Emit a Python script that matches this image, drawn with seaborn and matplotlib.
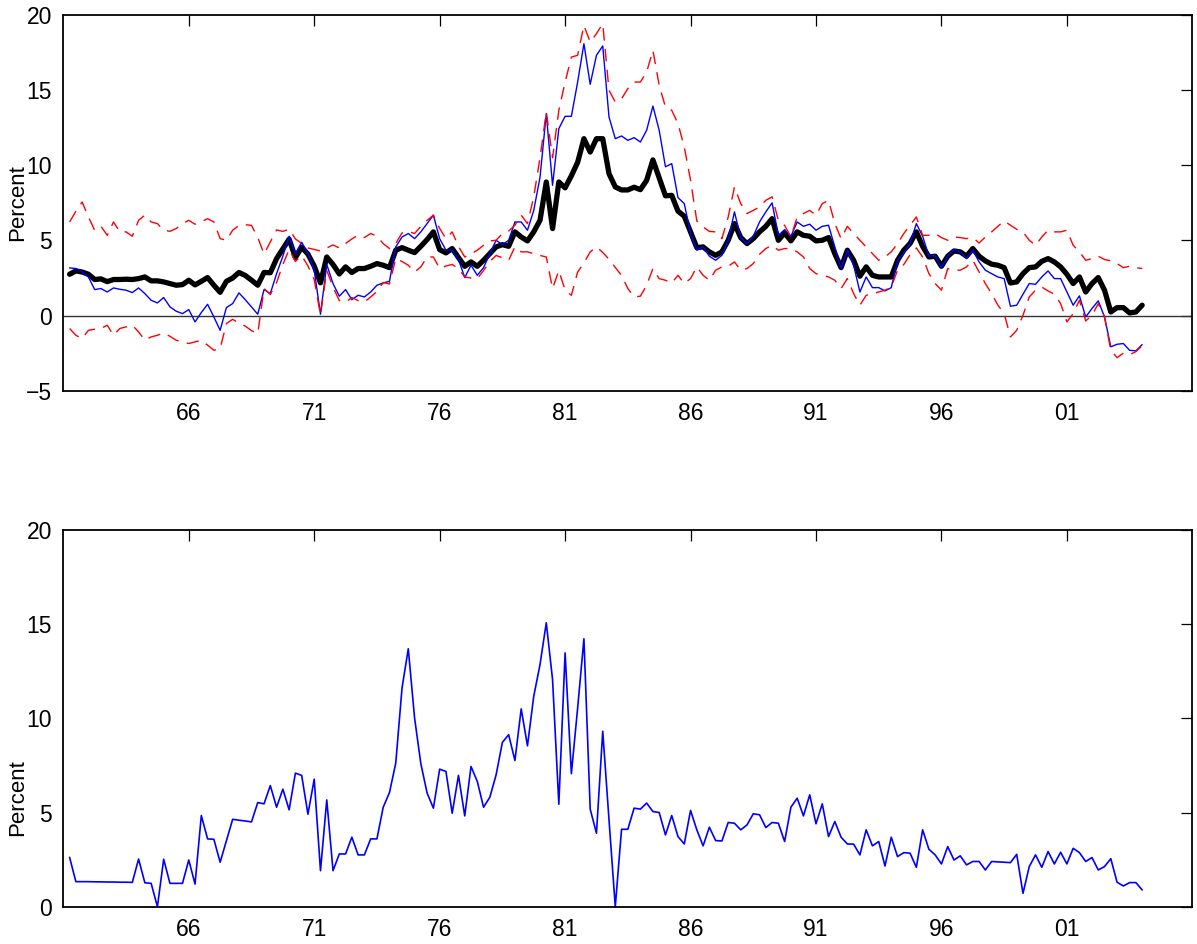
import numpy as np
import pandas as pd
import matplotlib
matplotlib.use("Agg")
import matplotlib.pyplot as plt
from matplotlib import font_manager
import seaborn as sns

# ---------------- data (quarterly, 1961Q2 .. 2004Q1) ----------------
start_year = 1961.25
step = 0.25

estimate = [
    2.75, 2.97, 2.90, 2.75, 2.40, 2.44, 2.26, 2.40, 2.40, 2.42,
    2.40, 2.46, 2.57, 2.31, 2.31, 2.24, 2.13, 2.02, 2.06, 2.35,
    2.04, 2.28, 2.53, 2.02, 1.55, 2.28, 2.50, 2.87, 2.67, 2.36,
    2.02, 2.87, 2.85, 3.79, 4.44, 5.09, 3.86, 4.55, 4.09, 3.29,
    2.18, 3.90, 3.40, 2.77, 3.24, 2.87, 3.13, 3.13, 3.28, 3.46,
    3.35, 3.19, 4.35, 4.52, 4.35, 4.19, 4.61, 5.06, 5.57, 4.39,
    4.17, 4.46, 3.86, 3.28, 3.57, 3.28, 3.68, 4.12, 4.57, 4.72,
    4.61, 5.57, 5.23, 4.97, 5.57, 6.34, 8.89, 5.79, 8.89, 8.50,
    9.30, 10.20, 11.77, 10.88, 11.77, 11.77, 9.44, 8.56, 8.36, 8.36,
    8.54, 8.38, 9.00, 10.36, 9.16, 7.97, 8.00, 6.95, 6.61, 5.57,
    4.52, 4.57, 4.24, 4.01, 4.24, 5.01, 6.12, 5.19, 4.79, 5.12,
    5.57, 5.94, 6.45, 5.01, 5.50, 4.97, 5.57, 5.34, 5.28, 4.97,
    5.01, 5.19, 4.12, 3.19, 4.35, 3.68, 2.62, 3.24, 2.68, 2.57,
    2.57, 2.57, 3.68, 4.35, 4.80, 5.57, 4.61, 3.90, 3.95, 3.28,
    3.95, 4.30, 4.24, 3.95, 4.46, 3.95, 3.64, 3.42, 3.35, 3.19,
    2.17, 2.24, 2.79, 3.19, 3.24, 3.61, 3.79, 3.57, 3.24, 2.75,
    2.13, 2.57, 1.57, 2.13, 2.53, 1.69, 0.24, 0.53, 0.53, 0.18,
    0.24, 0.69,
]

actual = [
    3.17, 3.13, 2.90, 2.57, 1.73, 1.80, 1.57, 1.84, 1.75, 1.69,
    1.53, 1.84, 1.46, 1.02, 0.84, 1.20, 0.58, 0.29, 0.13, 0.40,
    -0.42, 0.20, 0.75, -0.09, -0.98, 0.53, 0.80, 1.51, 1.06, 0.58,
    0.09, 1.73, 1.46, 2.79, 3.95, 5.28, 4.12, 4.88, 4.12, 3.02,
    0.09, 3.39, 2.13, 1.29, 1.73, 1.06, 1.35, 1.24, 1.57, 2.02,
    2.17, 2.28, 4.57, 5.23, 5.46, 5.12, 5.57, 6.12, 6.68, 5.12,
    4.35, 4.35, 3.73, 2.53, 3.35, 2.68, 3.19, 4.12, 5.01, 4.72,
    5.01, 6.23, 6.23, 5.68, 7.00, 9.20, 13.44, 8.67, 12.44, 13.26,
    13.26, 15.54, 18.09, 15.39, 17.32, 17.94, 13.21, 11.77, 11.95, 11.66,
    11.84, 11.55, 12.33, 13.94, 12.33, 9.90, 10.11, 7.85, 7.45, 5.46,
    4.35, 4.57, 3.95, 3.68, 4.01, 5.01, 6.90, 5.19, 4.79, 5.28,
    6.23, 6.90, 7.50, 5.34, 5.72, 5.28, 6.23, 5.94, 6.08, 5.68,
    5.94, 6.01, 4.57, 3.13, 4.35, 3.35, 1.57, 2.57, 1.86, 1.86,
    1.64, 1.86, 3.68, 4.15, 4.80, 6.12, 5.28, 3.95, 4.01, 3.19,
    3.95, 4.39, 4.24, 3.79, 4.35, 3.57, 3.02, 2.79, 2.57, 2.46,
    0.62, 0.69, 1.42, 2.13, 2.08, 2.57, 2.97, 2.46, 2.46, 1.57,
    0.69, 1.31, -0.09, 0.47, 0.98, -0.09, -2.08, -1.91, -1.86, -2.31,
    -2.35, -1.93,
]

band_upper = [
    6.23, 6.94, 7.56, 6.56, 5.68, 5.94, 5.34, 6.23, 5.57, 5.57,
    5.28, 6.34, 6.68, 6.23, 6.12, 5.68, 5.61, 5.79, 6.12, 6.34,
    6.08, 6.23, 6.45, 6.23, 5.12, 5.01, 5.68, 6.00, 6.05, 6.00,
    5.20, 4.10, 4.90, 5.70, 5.60, 5.75, 5.10, 4.80, 4.50, 4.40,
    4.30, 4.50, 4.70, 4.50, 4.80, 5.10, 5.35, 5.19, 5.46, 5.28,
    4.79, 4.46, 4.80, 5.50, 5.60, 5.46, 5.94, 6.34, 6.68, 5.80,
    5.12, 5.57, 4.60, 3.90, 4.10, 4.35, 4.68, 4.97, 5.01, 5.46,
    5.63, 6.01, 6.68, 6.12, 7.90, 10.50, 13.55, 10.50, 13.66, 15.54,
    17.20, 17.32, 19.31, 18.20, 18.76, 19.42, 14.99, 14.21, 14.43, 15.10,
    15.54, 15.54, 16.21, 17.65, 15.32, 13.88, 13.66, 12.77, 11.22, 9.00,
    6.30, 5.90, 5.60, 5.57, 5.12, 6.56, 8.56, 7.45, 6.79, 7.00,
    7.23, 7.67, 7.90, 6.34, 6.00, 5.23, 6.56, 6.79, 7.00, 6.68,
    7.45, 7.67, 6.12, 5.12, 5.94, 5.46, 5.01, 4.57, 4.12, 3.68,
    3.90, 4.24, 4.79, 5.46, 6.01, 6.56, 5.34, 5.34, 5.46, 5.19,
    5.01, 5.23, 5.19, 5.12, 5.19, 4.83, 5.23, 5.57, 5.94, 6.30,
    6.01, 5.74, 5.57, 5.01, 4.68, 5.23, 5.68, 5.57, 5.57, 5.68,
    4.68, 4.24, 3.68, 3.79, 3.95, 3.73, 3.64, 3.46, 3.19, 3.28,
    3.19, 3.13,
]

band_lower = [
    -0.86, -1.31, -1.53, -0.98, -0.91, -0.86, -0.64, -1.31, -0.86, -0.75,
    -0.64, -1.09, -1.64, -1.42, -1.31, -1.15, -1.38, -1.64, -1.75, -1.86,
    -1.75, -1.64, -1.97, -2.31, -2.20, -0.53, -0.25, -0.50, -0.70, -1.00,
    -1.20, 1.80, 1.40, 2.20, 3.40, 4.40, 3.60, 4.00, 3.30, 2.40,
    0.05, 3.00, 1.90, 1.00, 0.90, 1.20, 1.00, 0.90, 1.24, 1.60,
    2.20, 2.10, 3.80, 3.60, 3.35, 2.90, 3.24, 3.90, 3.90, 3.13,
    3.30, 3.40, 3.13, 2.57, 2.50, 2.46, 3.00, 3.60, 4.00, 3.85,
    3.68, 4.57, 4.24, 4.24, 4.12, 4.00, 3.90, 1.80, 3.00, 1.68,
    1.35, 2.90, 3.50, 4.24, 4.57, 4.20, 3.75, 3.20, 2.68, 1.80,
    1.24, 1.29, 2.02, 3.13, 2.46, 2.35, 2.17, 2.68, 2.13, 2.46,
    3.24, 2.68, 2.35, 3.02, 3.24, 3.28, 3.57, 3.02, 3.13, 3.46,
    4.08, 4.46, 4.68, 4.35, 4.46, 4.46, 4.24, 3.90, 3.13, 2.79,
    2.68, 2.57, 2.35, 1.80, 2.46, 1.46, 0.69, 1.35, 1.46, 1.57,
    1.69, 1.90, 3.02, 3.40, 4.05, 4.50, 3.90, 2.79, 2.13, 1.69,
    3.13, 3.02, 3.02, 3.24, 3.68, 2.90, 2.13, 1.46, 0.69, 0.13,
    -1.42, -0.98, 0.02, 1.24, 1.69, 1.90, 1.64, 1.42, 0.80, -0.42,
    0.13, 1.02, -0.36, 0.02, 0.80, -0.09, -2.30, -2.80, -2.50, -2.60,
    -2.40, -2.00,
]

lower_series = [
    2.62, 1.33, 1.33, 1.33, 1.32, 1.32, 1.31, 1.31, 1.30, 1.30,
    1.29, 2.53, 1.27, 1.24, 0.00, 2.52, 1.24, 1.24, 1.24, 2.48,
    1.20, 4.84, 3.60, 3.58, 2.36, 3.51, 4.64, 4.59, 4.55, 4.50,
    5.53, 5.46, 6.43, 5.28, 6.24, 5.14, 7.09, 6.97, 4.91, 6.77,
    1.91, 5.67, 1.91, 2.80, 2.80, 3.69, 2.75, 2.75, 3.60, 3.60,
    5.28, 6.06, 7.62, 11.61, 13.69, 10.02, 7.59, 6.03, 5.23, 7.30,
    7.18, 4.96, 6.97, 4.82, 7.44, 6.65, 5.28, 5.81, 7.00, 8.72,
    9.13, 7.76, 10.50, 8.54, 11.17, 12.85, 15.07, 12.05, 5.44, 13.47,
    7.06, 10.55, 14.22, 5.18, 3.90, 9.31, 4.61, 0.00, 4.11, 4.11,
    5.23, 5.18, 5.50, 5.05, 5.00, 3.81, 4.84, 3.72, 3.33, 5.11,
    4.08, 3.23, 4.22, 3.51, 3.49, 4.47, 4.43, 4.08, 4.34, 4.93,
    4.88, 4.20, 4.47, 4.43, 3.46, 5.28, 5.76, 4.82, 5.94, 4.40,
    5.46, 3.72, 4.52, 3.69, 3.33, 3.32, 2.75, 4.08, 3.23, 3.46,
    2.16, 3.69, 2.66, 2.87, 2.84, 2.09, 4.08, 3.05, 2.75, 2.27,
    3.19, 2.48, 2.70, 2.22, 2.40, 2.40, 1.95, 2.40, 2.38, 2.36,
    2.34, 2.78, 0.71, 2.13, 2.75, 2.09, 2.93, 2.27, 2.89, 2.27,
    3.10, 2.87, 2.40, 2.61, 1.95, 2.13, 2.55, 1.30, 1.10, 1.28,
    1.28, 0.89,
]

tick_years = [1966, 1971, 1976, 1981, 1986, 1991, 1996, 2001]
tick_labels = ["66", "71", "76", "81", "86", "91", "96", "01"]
top_yticks = [-5, 0, 5, 10, 15, 20]
bottom_yticks = [0, 5, 10, 15, 20]
y_label = "Percent"

n = len(estimate)
dates = start_year + step * np.arange(n)
top_df = pd.DataFrame({"date": dates, "estimate": estimate, "actual": actual,
                       "upper": band_upper, "lower": band_lower})
bottom_df = pd.DataFrame({"date": dates[:len(lower_series)], "value": lower_series})

# ---------------- style ----------------
sns.set_style("white")

font_name = "DejaVu Sans"
for f in font_manager.fontManager.ttflist:
    if f.name == "Liberation Sans" and "Narrow" not in f.fname:
        font_name = f.name
        break
plt.rcParams["font.family"] = [font_name, "DejaVu Sans"]
plt.rcParams["text.color"] = "black"
plt.rcParams["axes.labelcolor"] = "black"
plt.rcParams["axes.linewidth"] = 1.3

fig = plt.figure(figsize=(11.97, 9.44), dpi=100)
ax1 = fig.add_axes([0.0529, 0.5861, 0.9432, 0.3980])
ax2 = fig.add_axes([0.0529, 0.0395, 0.9432, 0.3992])

dash = (9, 6)

# top panel
ax1.axhline(0, color="0.2", lw=1.0, zorder=1)
sns.lineplot(data=top_df, x="date", y="estimate", ax=ax1, color="black",
             lw=3.8, zorder=2, estimator=None, sort=False)
sns.lineplot(data=top_df, x="date", y="actual", ax=ax1, color="#0000ff",
             lw=1.0, zorder=3, estimator=None, sort=False)
for col in ["lower", "upper"]:
    sns.lineplot(data=top_df, x="date", y=col, ax=ax1, color="#ff0000",
                 lw=1.0, zorder=4, estimator=None, sort=False)
    ax1.lines[-1].set_dashes(dash)
ax1.set_ylim(-5, 20)
ax1.set_yticks(top_yticks)

# bottom panel
sns.lineplot(data=bottom_df, x="date", y="value", ax=ax2, color="#0000ff",
             lw=1.2, estimator=None, sort=False)
ax2.set_ylim(0, 20)
ax2.set_yticks(bottom_yticks)

for ax in (ax1, ax2):
    ax.set_xlim(1961, 2006)
    ax.set_xticks(tick_years)
    ax.set_xticklabels(tick_labels)
    ax.set_xlabel("")
    ax.set_ylabel(y_label, fontsize=16, color="black")
    ax.tick_params(direction="in", top=True, right=True, length=8, width=0.9,
                   labelsize=16.5, pad=8, colors="black")
    for sp in ax.spines.values():
        sp.set_visible(True)
        sp.set_color("black")
        sp.set_linewidth(1.3)

ax1.yaxis.set_label_coords(-0.031, 0.5)
ax2.yaxis.set_label_coords(-0.031, 0.29)

fig.savefig("out.png", dpi=100)
